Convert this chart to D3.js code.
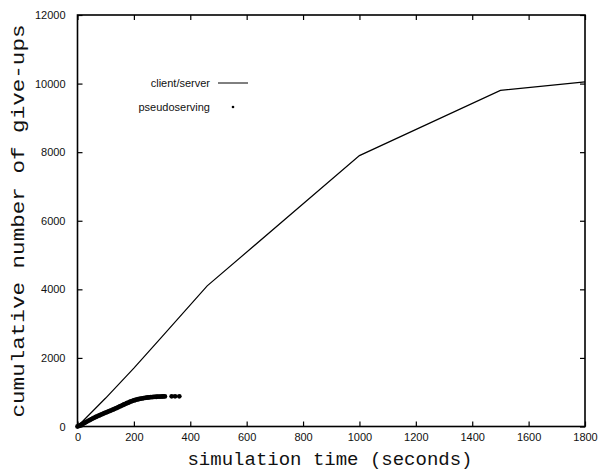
<!DOCTYPE html>
<html>
<head>
<meta charset="utf-8">
<script src="https://cdn.jsdelivr.net/npm/d3@7"></script>
<style>
  body { margin: 0; background: #fff; }
  svg { display: block; }
</style>
</head>
<body>
<svg id="chart" width="598" height="474"></svg>
<script>
// values
const xTicks = [0, 200, 400, 600, 800, 1000, 1200, 1400, 1600, 1800];
const yTicks = [0, 2000, 4000, 6000, 8000, 10000, 12000];

const clientTime  = [0, 100, 200, 300, 460, 1000, 1500, 1800];
const clientCount = [0, 830, 1700, 2620, 4100, 7900, 9800, 10050];

const pseudoTime  = [0, 5, 10, 15, 20, 25, 30, 35, 40, 45, 50, 55, 60, 65, 70, 75, 80, 85, 90, 95,
                     100, 105, 110, 115, 120, 125, 130, 135, 140, 145, 150, 155, 160, 165, 170, 175,
                     180, 185, 190, 195, 200, 205, 210, 215, 220, 225, 230, 235, 240, 245, 250, 255,
                     260, 265, 270, 275, 280, 285, 290, 295, 300, 305, 310, 334, 346, 361];
const pseudoCount = [0, 18, 38, 60, 82, 105, 128, 150, 172, 195, 217, 238, 258, 278, 298, 316, 334, 352, 370, 388,
                     405, 422, 440, 456, 472, 490, 508, 527, 546, 565, 584, 603, 622, 641, 660, 678,
                     696, 714, 730, 745, 760, 773, 785, 795, 805, 813, 820, 828, 835, 840, 845, 850,
                     855, 858, 862, 865, 868, 870, 872, 874, 875, 876, 877, 880, 880, 880];

const svg = d3.select('#chart');
const plotLeft = 77.5, plotRight = 585, plotTop = 15, plotBottom = 426.5;

const x = d3.scaleLinear().domain([0, 1800]).range([plotLeft, plotRight]);
const y = d3.scaleLinear().domain([0, 12000]).range([plotBottom, plotTop]);

const tickFont = 'Liberation Sans, Arial, sans-serif';
const monoFont = 'Liberation Mono, Courier New, monospace';
const fmt = d3.format('d');

// inward ticks on all four sides
const axisB = d3.axisBottom(x).tickValues(xTicks).tickFormat(fmt).tickSizeInner(-5).tickSizeOuter(0).tickPadding(7);
const axisT = d3.axisTop(x).tickValues(xTicks).tickSizeInner(-5).tickSizeOuter(0).tickFormat('');
const axisL = d3.axisLeft(y).tickValues(yTicks).tickFormat(fmt).tickSizeInner(-5).tickSizeOuter(0).tickPadding(12);
const axisR = d3.axisRight(y).tickValues(yTicks).tickSizeInner(-5).tickSizeOuter(0).tickFormat('');

const styleAxis = g => {
  g.select('.domain').remove();
  g.selectAll('.tick line').attr('stroke', '#000').attr('stroke-width', 1.2);
  g.selectAll('.tick text').attr('font-family', tickFont).attr('font-size', 11).attr('fill', '#111');
};

svg.append('g').attr('transform', `translate(0,${plotBottom})`).call(axisB).call(styleAxis);
svg.append('g').attr('transform', `translate(0,${plotTop})`).call(axisT).call(styleAxis);
svg.append('g').attr('transform', `translate(${plotLeft},0)`).call(axisL).call(styleAxis);
svg.append('g').attr('transform', `translate(${plotRight},0)`).call(axisR).call(styleAxis);

svg.append('rect')
  .attr('x', plotLeft).attr('y', plotTop)
  .attr('width', plotRight - plotLeft).attr('height', plotBottom - plotTop)
  .attr('fill', 'none').attr('stroke', '#000').attr('stroke-width', 1.6);

// client/server line
const line = d3.line().x(d => x(d[0])).y(d => y(d[1]));
svg.append('path')
  .datum(clientTime.map((t, i) => [t, clientCount[i]]))
  .attr('d', line)
  .attr('fill', 'none').attr('stroke', '#000').attr('stroke-width', 1.2);

// pseudoserving dots
svg.append('g').selectAll('circle')
  .data(pseudoTime.map((t, i) => [t, pseudoCount[i]]))
  .join('circle')
  .attr('cx', d => x(d[0])).attr('cy', d => y(d[1]))
  .attr('r', 2.4).attr('fill', '#000');

// legend
const legend = svg.append('g').attr('font-family', tickFont).attr('font-size', 11).attr('fill', '#111');
legend.append('text').attr('x', 210).attr('y', 83).attr('dy', '0.35em').attr('text-anchor', 'end').text('client/server');
legend.append('line').attr('x1', 218).attr('x2', 248).attr('y1', 83).attr('y2', 83).attr('stroke', '#000').attr('stroke-width', 1);
legend.append('text').attr('x', 210).attr('y', 107).attr('dy', '0.35em').attr('text-anchor', 'end').text('pseudoserving');
legend.append('circle').attr('cx', 233).attr('cy', 107).attr('r', 1.3).attr('fill', '#000');

// axis titles
svg.append('text')
  .attr('x', 330).attr('y', 465)
  .attr('text-anchor', 'middle')
  .attr('font-family', monoFont).attr('font-size', 19).attr('fill', '#111')
  .text('simulation time (seconds)');

svg.append('text')
  .attr('transform', 'translate(24,221) rotate(-90)')
  .attr('text-anchor', 'middle')
  .attr('font-family', monoFont).attr('font-size', 19).attr('fill', '#111')
  .attr('textLength', 393).attr('lengthAdjust', 'spacingAndGlyphs')
  .text('cumulative number of give-ups');
</script>
</body>
</html>
